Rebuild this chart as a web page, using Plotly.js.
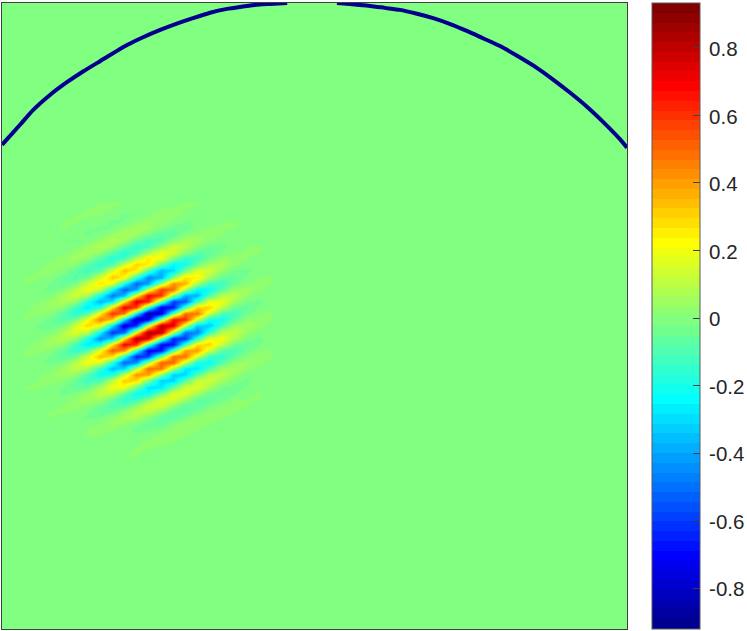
<!DOCTYPE html>
<html>
<head>
<meta charset="utf-8">
<script src="https://cdn.plot.ly/plotly-3.0.1.min.js"></script>
<style>html,body{margin:0;padding:0;background:#fff}</style>
</head>
<body>
<div id="chart" style="width:747px;height:631px"></div>
<script>
// Hand-estimated readings from the reference picture.
var gridX = [5,7.5,10,12.5,15,17.5,20,22.5,25,27.5,30,32.5,35,37.5,40,42.5,45,47.5,50,52.5,55];
var gridY = [41,42.25,43.5,44.75,46,47.25,48.5,49.75,51,52.25,53.5,54.75,56,57.25,58.5,59.75,61,62.25,63.5,64.75,66,67.25,68.5,69.75,71,72.25,73.5,74.75,76,77.25,78.5,79.75,81,82.25,83.5,84.75,86,87.25,88.5,89.75,91,92.25];
// patch values in hundredths, one row per gridY entry
var patchRows = [
[0,0,0,0,0,0,1,1,1,-1,-1,-1,0,1,1,0,0,0,0,0,0],
[0,0,0,0,0,1,1,1,-1,-2,-1,1,2,1,0,-1,-1,0,0,0,0],
[0,0,0,0,1,1,1,-1,-3,-2,1,3,2,0,-1,-1,0,0,0,0,0],
[0,0,0,1,1,0,-1,-3,-2,2,4,3,0,-3,-2,-1,1,1,0,0,0],
[0,0,0,1,0,-2,-3,-2,3,6,4,-1,-5,-4,-1,2,1,1,0,0,0],
[0,0,1,0,-1,-3,-1,4,7,5,-2,-8,-7,0,3,3,1,-1,-1,0,0],
[0,0,0,-1,-3,-1,4,8,5,-5,-12,-9,1,7,6,1,-2,-2,-1,0,0],
[0,0,-1,-2,0,4,8,5,-6,-15,-11,2,13,10,1,-4,-3,-1,1,1,0],
[0,-1,-1,0,3,6,3,-8,-18,-12,5,19,15,2,-8,-7,-2,1,1,1,0],
[0,-1,0,3,5,2,-9,-18,-12,9,26,20,-1,-16,-13,-3,4,3,1,0,0],
[0,0,2,3,1,-8,-16,-10,13,31,25,-4,-25,-21,-4,8,7,2,-1,-1,0],
[0,1,2,0,-7,-13,-7,15,34,25,-9,-37,-30,-3,16,14,4,-3,-3,-1,0],
[1,1,0,-5,-9,-4,15,32,23,-15,-46,-39,0,27,25,6,-6,-6,-2,1,1],
[1,0,-3,-6,-2,13,27,18,-20,-53,-42,5,42,37,7,-13,-13,-4,1,2,1],
[0,-2,-3,-1,10,21,12,-22,-54,-41,13,58,49,6,-24,-23,-7,4,5,2,0],
[-1,-2,0,7,14,7,-21,-49,-36,21,70,59,3,-40,-37,-10,9,10,3,-1,-1],
[-1,1,4,8,3,-18,-39,-27,26,75,62,-5,-59,-54,-12,18,19,6,-2,-3,-1],
[0,3,4,1,-13,-28,-17,28,72,57,-15,-75,-66,-10,31,31,10,-5,-6,-2,0],
[1,2,0,-8,-18,-10,25,61,47,-24,-86,-75,-6,49,47,13,-11,-12,-4,1,1],
[1,-1,-5,-10,-4,20,46,33,-29,-86,-74,3,67,62,15,-20,-22,-8,2,3,1],
[0,-3,-5,-2,14,30,20,-28,-78,-63,13,81,74,13,-33,-34,-11,5,6,3,0],
[-1,-2,0,8,18,10,-25,-62,-50,22,86,78,8,-49,-48,-14,10,12,4,-1,-1],
[-1,0,5,10,4,-19,-45,-33,25,83,73,-1,-63,-60,-16,18,21,8,-1,-3,-1],
[0,3,5,2,-12,-28,-19,25,70,60,-10,-71,-68,-14,29,30,11,-4,-6,-3,0],
[1,2,0,-7,-16,-9,21,53,43,-16,-73,-68,-9,40,41,13,-8,-11,-4,1,1],
[1,0,-3,-8,-4,14,35,28,-19,-65,-59,-1,48,48,13,-14,-16,-6,1,3,1],
[0,-2,-3,-1,9,21,15,-17,-52,-45,5,52,50,12,-21,-23,-8,3,4,2,0],
[-1,-1,0,5,11,7,-14,-36,-31,9,49,47,7,-27,-28,-10,5,7,3,0,-1],
[-1,0,3,5,3,-9,-23,-18,11,42,40,2,-32,-32,-9,9,11,4,-1,-1,-1],
[0,1,2,1,-5,-13,-10,10,32,29,-2,-32,-32,-8,12,14,5,-1,-3,-1,0],
[1,1,0,-3,-6,-5,7,21,19,-4,-29,-28,-5,15,17,6,-3,-4,-2,0,1],
[0,0,-1,-3,-1,4,12,10,-6,-23,-22,-2,17,17,5,-4,-6,-3,0,1,0],
[0,-1,-1,-1,3,6,5,-5,-16,-15,0,16,16,5,-6,-7,-3,1,1,1,0],
[0,-1,0,1,3,2,-4,-10,-9,2,14,14,3,-7,-8,-3,1,2,1,0,0],
[0,0,1,1,1,-2,-6,-5,2,10,10,2,-7,-8,-3,2,3,1,0,-1,0],
[0,0,1,0,-1,-3,-2,2,7,7,0,-7,-7,-2,3,3,1,0,-1,0,0],
[0,0,0,-1,-1,-1,1,4,3,-1,-5,-6,-1,3,3,1,-1,-1,-1,0,0],
[0,0,0,0,-1,1,2,2,-1,-3,-3,-1,3,3,1,-1,-1,-1,0,0,0],
[0,0,0,0,0,1,1,-1,-2,-2,0,2,3,1,-1,-1,-1,0,0,0,0],
[0,0,0,0,0,0,-1,-1,-1,0,2,2,1,-1,-1,-1,0,0,0,0,0],
[0,0,0,0,0,0,0,-1,0,1,1,0,-1,-1,-1,0,0,0,0,0,0],
[0,0,0,0,0,0,0,0,1,1,0,-1,-1,0,0,0,0,0,0,0,0]
];
var arcX = [0,3.7,6.35,9.83,13.3,16.6,20.07,25.6,28.9,32.4,35.8,39.1,42.6,46.1,48.7,51.8,54.9,58.4,null,68.6,75.4,78.4,81.5,85,88.3,91.8,95.2,98.5,102,105.5,109.6,112.8,116.3,119.8,123.1,126.6,128];
var arcY = [29,24.9,21.9,18.8,16.2,14,11.9,8.6,7,5.5,4.2,3.1,2,1.2,0.8,0.4,0.2,0,null,0,0.6,1,1.4,2.2,3.1,4.3,5.7,7.2,8.8,10.8,13.3,15.6,18.3,21.2,24.3,27.9,29.6];
var tickVals = [0.8,0.6,0.4,0.2,0,-0.2,-0.4,-0.6,-0.8];
var tickText = ['0.8','0.6','0.4','0.2','0','-0.2','-0.4','-0.6','-0.8'];
var zMin = -0.921, zMax = 0.933;

function clamp(v){return Math.max(0,Math.min(1,v));}
function jetColor(k){
  var t=(k+1)/64;
  var r=clamp(1.5-Math.abs(4*t-3)),g=clamp(1.5-Math.abs(4*t-2)),b=clamp(1.5-Math.abs(4*t-1));
  return 'rgb('+Math.round(r*255)+','+Math.round(g*255)+','+Math.round(b*255)+')';
}
var zeroTop=(0.008-zMin)/(zMax-zMin);
var scale=[];
for(var k=0;k<64;k++){
  var lo=k/64,hi=(k+1)/64;
  if(k===31)hi=zeroTop;
  if(k===32)lo=zeroTop;
  scale.push([lo,jetColor(k)]);
  scale.push([hi,jetColor(k)]);
}

var padX=[2.5].concat(gridX,[57.5]);
var padY=[39.75].concat(gridY,[93.5]);
var blank=padX.map(function(){return 0;});
var zPatch=[blank].concat(patchRows.map(function(r){
  return [0].concat(r,[0]).map(function(v){return v/100;});
}),[blank]);

var traces=[
 {type:'heatmap',x:padX,y:padY,z:zPatch,zsmooth:'best',zmin:zMin,zmax:zMax,colorscale:scale,hoverinfo:'skip',
  colorbar:{x:1.04,xanchor:'left',xpad:0,y:1,yanchor:'top',ypad:0,len:1,lenmode:'fraction',thickness:48,thicknessmode:'pixels',
    tickmode:'array',tickvals:tickVals,ticktext:tickText,ticks:'inside',ticklen:7,tickwidth:1,tickcolor:'#404040',
    outlinecolor:'#5a5a5a',outlinewidth:1,borderwidth:0,
    tickfont:{family:'Liberation Sans, Arial, sans-serif',size:20.5,color:'#262626'}}},
 {type:'scatter',mode:'lines',x:arcX,y:arcY,line:{color:'#00008f',width:4,shape:'spline',smoothing:0.6},hoverinfo:'skip',showlegend:false,connectgaps:false}
];
var layout={
 width:747,height:631,autosize:false,showlegend:false,
 margin:{l:2,r:120,t:3,b:2,pad:0,autoexpand:false},
 paper_bgcolor:'#ffffff',plot_bgcolor:'#80ff80',
 xaxis:{range:[0,128],showgrid:false,zeroline:false,showticklabels:false,ticks:'',showline:true,mirror:true,linecolor:'#404040',linewidth:1},
 yaxis:{range:[128,0],showgrid:false,zeroline:false,showticklabels:false,ticks:'',showline:true,mirror:true,linecolor:'#404040',linewidth:1}
};
Plotly.newPlot('chart',traces,layout,{displayModeBar:false,staticPlot:true}).then(function(){
  document.querySelectorAll('.colorbar text').forEach(function(t){t.setAttribute('dx','4');t.setAttribute('dy','1');});
});
</script>
</body>
</html>
